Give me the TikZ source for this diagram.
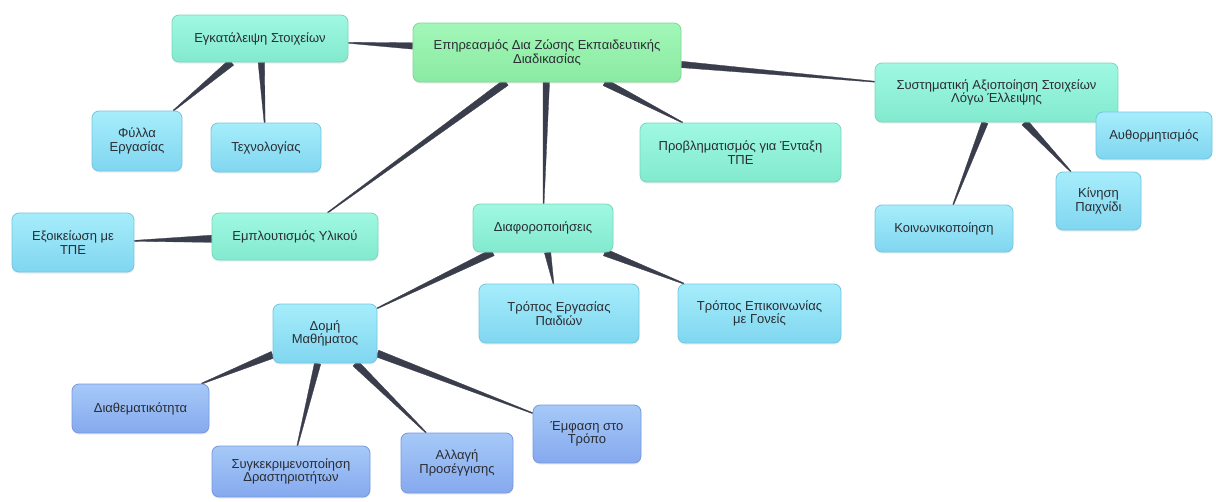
\documentclass[tikz,border=0pt]{standalone}
\usepackage{fontspec}
\setmainfont{Liberation Sans}
\usetikzlibrary{calc,shadows,backgrounds}
\definecolor{txt}{HTML}{2A2D33}
\definecolor{conncol}{HTML}{3A3D4B}
\definecolor{rootT}{HTML}{A2F7B8}
\definecolor{rootD}{HTML}{8AEAA2}
\definecolor{rootE}{HTML}{7ED69A}
\definecolor{mintT}{HTML}{A0F8E2}
\definecolor{mintD}{HTML}{82EACE}
\definecolor{mintE}{HTML}{78D6BC}
\definecolor{cyanT}{HTML}{A6EDFB}
\definecolor{cyanD}{HTML}{80D6F0}
\definecolor{cyanE}{HTML}{74C6DF}
\definecolor{blueT}{HTML}{A6C9F8}
\definecolor{blueD}{HTML}{85A9EE}
\definecolor{blueE}{HTML}{7898DC}
\tikzset{
  box/.style={rounded corners=7pt, line width=0.8pt, inner sep=2pt, align=center,
    font=\fontsize{13}{13.5}\selectfont, text=txt,
    drop shadow={shadow xshift=0pt, shadow yshift=-1.5pt, opacity=0.15}},
  rootbox/.style={box, draw=rootE, top color=rootT, bottom color=rootD},
  mintbox/.style={box, draw=mintE, top color=mintT, bottom color=mintD},
  cyanbox/.style={box, draw=cyanE, top color=cyanT, bottom color=cyanD},
  bluebox/.style={box, draw=blueE, top color=blueT, bottom color=blueD},
  sz/.style 2 args={minimum width=#1pt, minimum height=#2pt},
  wedgefill/.style={fill=conncol, draw=conncol, line width=0.3pt, line join=round}
}
\newcommand\wedgeconn[3]{%
  \path (#1) -- coordinate[pos=0] (ws) coordinate[pos=1] (we) (#2);
  \fill[wedgefill] ($(ws)!#3!90:(we)$) -- ($(we)!0.5pt!-90:(ws)$)
     -- ($(we)!0.5pt!90:(ws)$) -- ($(ws)!#3!-90:(we)$) -- cycle;}
\begin{document}
\begin{tikzpicture}[x=1pt,y=-1pt]
\useasboundingbox (0,0) rectangle (1216,501);
% level 0
\node[rootbox, sz={268}{59}] (main) at (547,52.5) {Επηρεασμός Δια Ζώσης Εκπαιδευτικής\\Διαδικασίας};
% level 1
\node[mintbox, sz={176}{47}] (eg) at (260,38.5) {Εγκατάλειψη Στοιχείων};
\node[mintbox, sz={201}{59}] (prob) at (740.5,152.5) {Προβληματισμός για Ένταξη\\ΤΠΕ};
\node[mintbox, sz={243}{59}] (sys) at (996.5,92.5) {Συστηματική Αξιοποίηση Στοιχείων\\Λόγω Έλλειψης};
\node[mintbox, sz={166}{47}] (empl) at (295,236.5) {Εμπλουτισμός Υλικού};
\node[mintbox, sz={140}{48}] (diaf) at (543,228) {Διαφοροποιήσεις};
% level 2
\node[cyanbox, sz={90}{60}] (fy) at (137,141) {Φύλλα\\Εργασίας};
\node[cyanbox, sz={110}{49}] (tex) at (266,147.5) {Τεχνολογίας};
\node[cyanbox, sz={116}{47}] (auth) at (1154,135.5) {Αυθορμητισμός};
\node[cyanbox, sz={85}{58}] (kin) at (1098.5,201) {Κίνηση\\Παιχνίδι};
\node[cyanbox, sz={138}{47}] (koin) at (944,228.5) {Κοινωνικοποίηση};
\node[cyanbox, sz={122}{59}] (exo) at (73,242.5) {Εξοικείωση με\\ΤΠΕ};
\node[cyanbox, sz={104}{59}] (dom) at (325,333.5) {Δομή\\Μαθήματος};
\node[cyanbox, sz={160}{59}] (trEr) at (559,313.5) {Τρόπος Εργασίας\\Παιδιών};
\node[cyanbox, sz={163}{59}] (trEp) at (759.5,313.5) {Τρόπος Επικοινωνίας\\με Γονείς};
% level 3
\node[bluebox, sz={137}{49}] (diath) at (140.5,408.5) {Διαθεματικότητα};
\node[bluebox, sz={158}{51}] (syg) at (291,471.5) {Συγκεκριμενοποίηση\\Δραστηριοτήτων};
\node[bluebox, sz={112}{60}] (all) at (457,463) {Αλλαγή\\Προσέγγισης};
\node[bluebox, sz={108}{58}] (emf) at (587,434) {Έμφαση στο\\Τρόπο};
% connectors
\begin{scope}[on background layer]
\wedgeconn{main}{eg}{3.2pt}
\wedgeconn{main}{empl}{3.6pt}
\wedgeconn{main}{diaf}{3.2pt}
\wedgeconn{main}{prob}{3.6pt}
\wedgeconn{main}{sys}{3.2pt}
\wedgeconn{eg}{fy}{3.6pt}
\wedgeconn{eg}{tex}{3.2pt}
\wedgeconn{sys}{koin}{3.2pt}
\wedgeconn{sys}{kin}{3.6pt}
\wedgeconn{empl}{exo}{3.6pt}
\wedgeconn{diaf}{dom}{3.6pt}
\wedgeconn{diaf}{trEr}{3.2pt}
\wedgeconn{diaf}{trEp}{3.6pt}
\wedgeconn{dom}{diath}{3.6pt}
\wedgeconn{dom}{syg}{3.2pt}
\wedgeconn{dom}{all}{3.6pt}
\wedgeconn{dom}{emf}{3.6pt}
\end{scope}
\end{tikzpicture}
\end{document}
